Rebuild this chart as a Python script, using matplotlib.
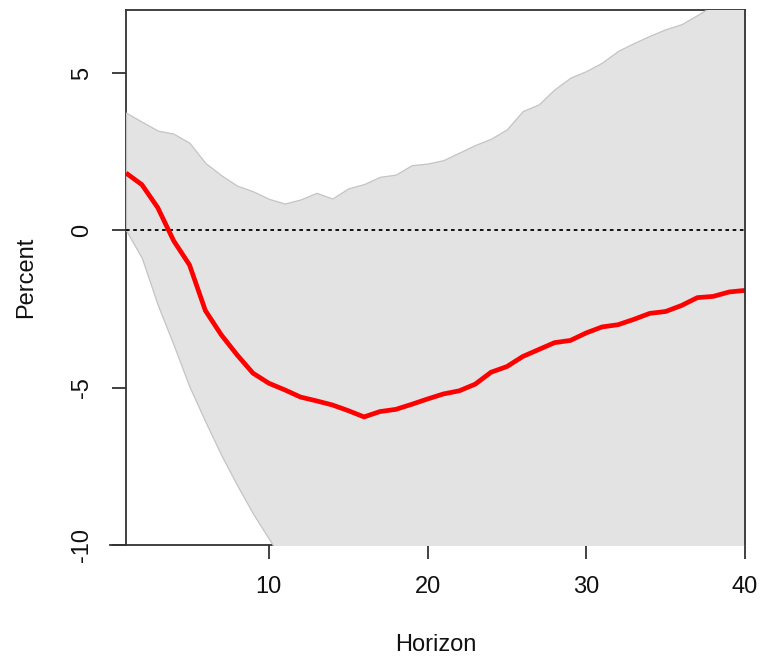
import matplotlib
matplotlib.use("Agg")
import matplotlib.pyplot as plt
import numpy as np

plt.rcParams['font.family'] = ['Liberation Sans', 'DejaVu Sans']

horizon = list(range(1, 41))
irf = [1.82, 1.45, 0.72, -0.33, -1.1, -2.55, -3.32, -3.96, -4.54, -4.86,
       -5.07, -5.30, -5.42, -5.55, -5.73, -5.93, -5.76, -5.69, -5.53, -5.36,
       -5.20, -5.10, -4.89, -4.51, -4.33, -4.01, -3.79, -3.57, -3.50, -3.26,
       -3.07, -3.00, -2.83, -2.64, -2.58, -2.39, -2.14, -2.10, -1.96, -1.91]
upper = [3.74, 3.45, 3.17, 3.07, 2.78, 2.14, 1.75, 1.42, 1.24, 1.00,
         0.85, 0.98, 1.19, 1.01, 1.33, 1.47, 1.70, 1.77, 2.07, 2.12,
         2.23, 2.47, 2.71, 2.91, 3.21, 3.79, 4.00, 4.48, 4.85, 5.06,
         5.33, 5.70, 5.95, 6.18, 6.39, 6.55, 6.84, 7.15, 7.45, 7.75]
lower = [0.00, -0.88, -2.37, -3.64, -4.97, -6.08, -7.14, -8.10, -9.00, -9.80,
         -10.6, -11.2, -11.7, -12.1, -12.4, -12.6, -12.7, -12.8, -12.8, -12.8,
         -12.7, -12.7, -12.6, -12.6, -12.5, -12.4, -12.4, -12.3, -12.2, -12.2,
         -12.1, -12.0, -12.0, -11.9, -11.9, -11.8, -11.8, -11.7, -11.7, -11.6]
xticks = [10, 20, 30, 40]
yticks = [-10, -5, 0, 5]

W, H = 761, 663
fig = plt.figure(figsize=(W / 100, H / 100), dpi=100)
ax = fig.add_axes([126 / W, 1 - 545 / H, (745 - 126) / W, (545 - 10) / H])

ax.fill_between(horizon, lower, upper, facecolor='#e3e3e3', edgecolor='#c4c4c4',
                linewidth=0.9, zorder=3)
ax.axhline(0, color='black', linestyle=(0, (2, 2)), linewidth=1.3, zorder=4)
ax.plot(horizon, irf, color='#ff0000', linewidth=3.4, zorder=5,
        solid_capstyle='butt')

ax.set_xlim(1, 40)
ax.set_ylim(-10, 7)

for s in ax.spines.values():
    s.set_color('#333333')
    s.set_linewidth(1.3)
ax.spines['right'].set_zorder(6)
ax.spines['bottom'].set_bounds(0, 40)

ax.set_xticks(xticks)
ax.set_yticks(yticks)
ax.set_yticklabels([str(v) for v in yticks], rotation=90, va='center')
ax.tick_params(axis='both', direction='out', length=10, width=1.3,
               color='#333333', labelsize=17, labelcolor='#111111')
ax.tick_params(axis='x', pad=12)
ax.tick_params(axis='y', pad=14)

ax.set_xlabel('Horizon', fontsize=17, color='#111111', labelpad=26)
ax.set_ylabel('Percent', fontsize=17, color='#111111', labelpad=24)

fig.savefig('out.png', dpi=100, facecolor='white')
